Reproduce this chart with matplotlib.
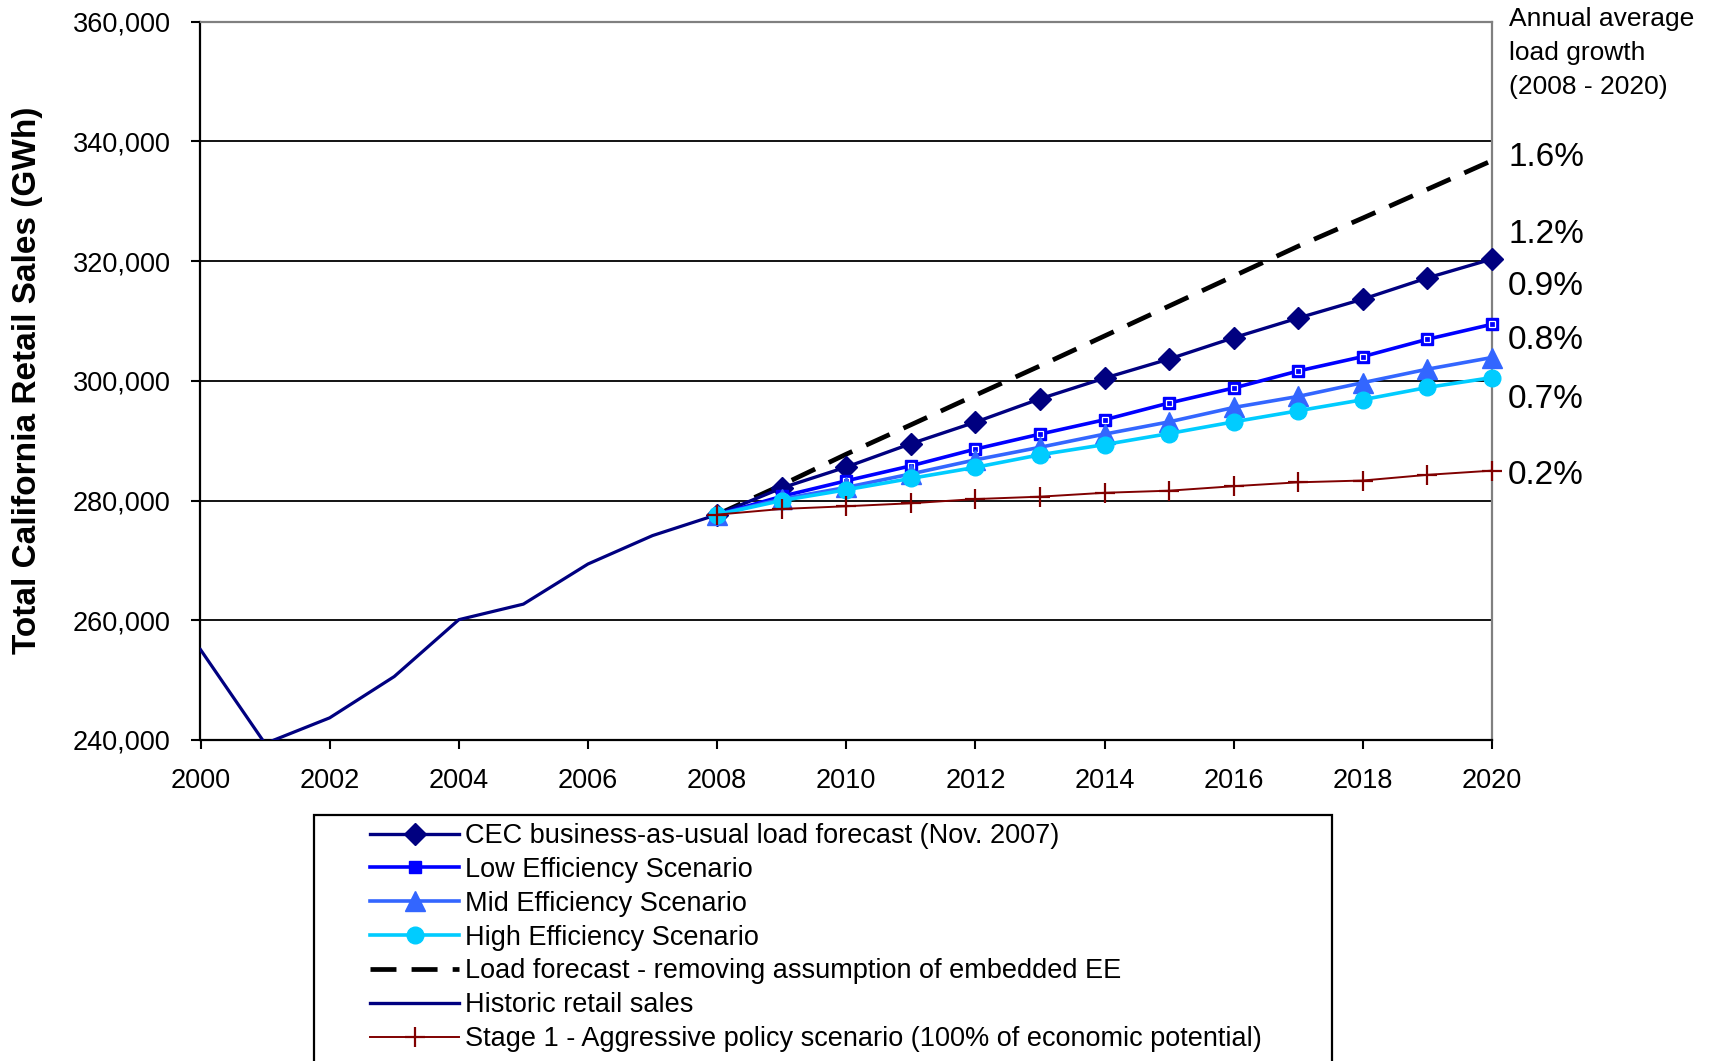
import matplotlib
matplotlib.use("Agg")
import matplotlib.pyplot as plt
from matplotlib.lines import Line2D
from matplotlib.patches import Rectangle
from matplotlib.ticker import FuncFormatter

plt.rcParams['font.family'] = ['Liberation Sans', 'DejaVu Sans']

# historic retail sales (GWh)
hist_years = [2000, 2001, 2002, 2003, 2004, 2005, 2006, 2007, 2008]
hist_sales = [255100, 239400, 243700, 250600, 260100, 262700, 269400, 274150, 277650]

# forecast scenarios 2008 - 2020
fc_years = list(range(2008, 2021))
cec_bau = [277650, 282100, 285600, 289500, 293100, 297000, 300450, 303650,
           307200, 310500, 313650, 317200, 320350]
low_eff = [277650, 280700, 283300, 285800, 288600, 291100, 293500, 296300,
           298800, 301650, 304050, 306950, 309450]
mid_eff = [277650, 280250, 282200, 284450, 286800, 288900, 291100, 293150,
           295550, 297400, 299700, 301950, 303900]
high_eff = [277650, 280000, 281800, 283700, 285550, 287650, 289350, 291200,
            293150, 295000, 296850, 298900, 300550]
no_embedded_ee = [277650, 282600, 287750, 292650, 297600, 302500, 307500, 312500,
                  317500, 322500, 327200, 332000, 336800]
stage1_aggr = [277650, 278600, 279050, 279550, 280250, 280650, 281300, 281650,
               282400, 283050, 283350, 284300, 285000]

growth_labels = ["1.6%", "1.2%", "0.9%", "0.8%", "0.7%", "0.2%"]
growth_label_y = [337300, 324450, 315780, 306780, 296950, 284120]

legend_labels = [
    "CEC business-as-usual load forecast (Nov. 2007)",
    "Low Efficiency Scenario",
    "Mid Efficiency Scenario",
    "High Efficiency Scenario",
    "Load forecast - removing assumption of embedded EE",
    "Historic retail sales",
    "Stage 1 - Aggressive policy scenario (100% of economic potential)",
]

W, H = 1715, 1061
fig = plt.figure(figsize=(W / 100, H / 100), dpi=100)
ax = fig.add_axes([200.5 / W, 1 - 740 / H, (1492 - 200.5) / W, (740 - 21.7) / H])

navy = "#000080"
c_low = "#0000FF"
c_mid = "#3366FF"
c_high = "#00CCFF"
c_red = "#800000"

ax.plot(hist_years, hist_sales, color=navy, lw=2.3, zorder=3)
ax.plot(fc_years, no_embedded_ee, color="black", lw=3.4, dashes=(5.5, 3.2), zorder=3)
ax.plot(fc_years, cec_bau, color=navy, lw=2.4, marker="D", ms=11.5, mfc=navy, mec=navy,
        zorder=4, clip_on=False)
ax.plot(fc_years, low_eff, color=c_low, lw=2.6, marker="s", ms=8, mfc=c_low, mec=c_low,
        zorder=5, clip_on=False)
ax.plot(fc_years, low_eff, ls="none", marker="s", ms=4.5, mfc="none", mec="white", mew=0.9,
        zorder=5, clip_on=False)
ax.plot(fc_years, mid_eff, color=c_mid, lw=2.6, marker="^", ms=14, mfc=c_mid, mec=c_mid,
        zorder=6, clip_on=False)
ax.plot(fc_years, high_eff, color=c_high, lw=2.6, marker="o", ms=12, mfc=c_high, mec=c_high,
        zorder=7, clip_on=False)
ax.plot(fc_years, stage1_aggr, color=c_red, lw=1.4, marker="+", ms=14, mew=1.6, mec=c_red,
        zorder=8, clip_on=False)

ax.set_xlim(2000, 2020)
ax.set_ylim(240000, 360000)
ax.set_xticks(range(2000, 2021, 2))
ax.set_yticks(range(240000, 360001, 20000))
ax.yaxis.set_major_formatter(FuncFormatter(lambda v, p: f"{int(v):,}"))
ax.tick_params(axis="y", length=6.5, width=1.5, pad=15, labelsize=19.5, direction="out")
ax.tick_params(axis="x", length=6.5, width=1.5, pad=14, labelsize=19.5, direction="out")

ax.grid(axis="y", color="black", lw=1.3, zorder=1)
ax.set_axisbelow(True)
for s in ["left", "bottom"]:
    ax.spines[s].set_color("black")
    ax.spines[s].set_linewidth(1.6)
for s in ["top", "right"]:
    ax.spines[s].set_color("#808080")
    ax.spines[s].set_linewidth(1.6)

fig.text(28 / W, 1 - 380 / H, "Total California Retail Sales (GWh)", rotation=90,
         ha="center", va="center", fontsize=24, fontweight="bold")

ax.text(1509 / W, 1 - 53 / H, "Annual average\nload growth\n(2008 - 2020)",
        transform=fig.transFigure, ha="left", va="center", fontsize=19, linespacing=1.52)
for lab, yv in zip(growth_labels, growth_label_y):
    ax.text(2020.25, yv, lab, ha="left", va="center", fontsize=24, clip_on=False)

handles = [
    Line2D([], [], color=navy, lw=2.4, marker="D", ms=11.5, mfc=navy, mec=navy),
    Line2D([], [], color=c_low, lw=2.6, marker="s", ms=8, mfc=c_low, mec=c_low),
    Line2D([], [], color=c_mid, lw=2.6, marker="^", ms=14, mfc=c_mid, mec=c_mid),
    Line2D([], [], color=c_high, lw=2.6, marker="o", ms=12, mfc=c_high, mec=c_high),
    Line2D([], [], color="black", lw=3.4, dashes=(5.5, 3.2)),
    Line2D([], [], color=navy, lw=2.4),
    Line2D([], [], color=c_red, lw=1.4, marker="+", ms=14, mew=1.6, mec=c_red),
]
fig.legend(handles, legend_labels, loc="upper left", bbox_to_anchor=(370 / W, 1 - 823 / H),
           frameon=False, fontsize=19.5, handlelength=3.3, handletextpad=0.22,
           labelspacing=0.29, borderpad=0, borderaxespad=0)
fig.add_artist(Rectangle((314 / W, -0.1), (1332 - 314) / W, (1 - 815 / H) + 0.1,
                         transform=fig.transFigure, fill=False, ec="black", lw=1.6))

fig.savefig("out.png", dpi=100)
